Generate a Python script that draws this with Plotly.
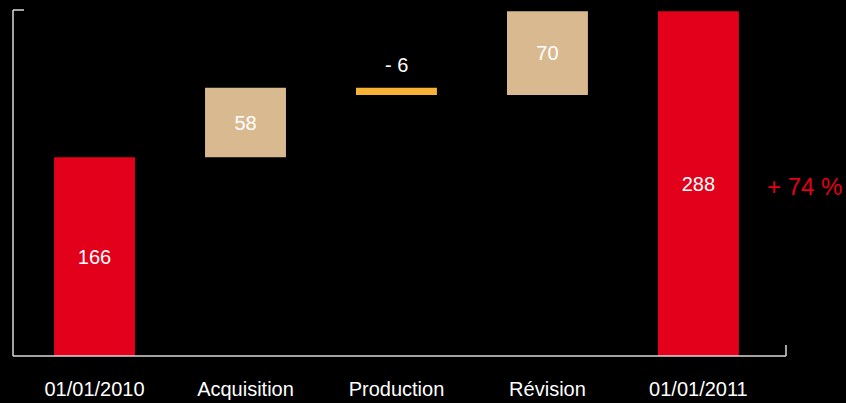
import plotly.graph_objects as go

categories = ["01/01/2010", "Acquisition", "Production", "Révision", "01/01/2011"]
values = [166, 58, -6, 70, 288]
measures = ["absolute", "relative", "relative", "relative", "total"]
labels = ["166", "58", "- 6", "70", "288"]
change_label = "+ 74 %"

RED = "#e2001a"
TAN = "#d9b98f"
ORANGE = "#f8b334"
FONT = "Liberation Sans, Arial, sans-serif"

# compute waterfall geometry from data
bases, heights, colors, positions = [], [], [], []
running = 0
for v, m in zip(values, measures):
    if m == "absolute" or m == "total":
        start, end = 0, v
        running = v
        colors.append(RED)
    else:
        start, end = running, running + v
        running = end
        colors.append(TAN if v >= 0 else ORANGE)
    bases.append(min(start, end))
    heights.append(abs(end - start))
    positions.append("none" if v < 0 else "inside")

fig = go.Figure()
fig.add_trace(go.Bar(
    x=list(range(len(categories))),
    y=heights,
    base=bases,
    width=0.536,
    marker=dict(color=colors, line=dict(width=0)),
    text=labels,
    textposition=positions,
    insidetextanchor="middle",
    textangle=0,
    cliponaxis=False,
    textfont=dict(family=FONT, size=20, color="white"),
    hoverinfo="skip",
))

annotations = []
for i, v in enumerate(values):
    if v < 0:
        annotations.append(dict(
            text=labels[i], x=i, y=bases[i] + heights[i], xref="x", yref="y",
            xanchor="center", yanchor="bottom", yshift=10, showarrow=False,
            font=dict(family=FONT, size=20, color="white")))
annotations.append(dict(
    text=change_label, xref="paper", yref="paper", x=1.0235, y=0.49,
    xanchor="center", yanchor="middle", showarrow=False,
    font=dict(family=FONT, size=24, color=RED)))

line_color = "#d9d9d9"
shapes = [
    dict(type="line", xref="paper", yref="paper", x0=0, x1=0, y0=0, y1=1,
         line=dict(color=line_color, width=1.5)),
    dict(type="line", xref="paper", yref="paper", x0=0, x1=0.0142, y0=1, y1=1,
         line=dict(color=line_color, width=1.5)),
    dict(type="line", xref="paper", yref="paper", x0=0, x1=1, y0=0, y1=0,
         line=dict(color=line_color, width=1.5)),
    dict(type="line", xref="paper", yref="paper", x0=1, x1=1, y0=0, y1=0.032,
         line=dict(color=line_color, width=1.5)),
]

fig.update_layout(
    width=846, height=403,
    paper_bgcolor="black", plot_bgcolor="black",
    margin=dict(l=13, r=60, t=10, b=47),
    showlegend=False,
    shapes=shapes,
    annotations=annotations,
    xaxis=dict(
        range=[-0.54, 4.58],
        tickmode="array",
        tickvals=list(range(len(categories))),
        ticktext=categories,
        showgrid=False, zeroline=False, showline=False,
        ticks="", ticklabelstandoff=19,
        automargin=False,
        tickfont=dict(family=FONT, size=20, color="white"),
        fixedrange=True,
    ),
    yaxis=dict(
        range=[0, 289],
        showgrid=False, zeroline=False, showline=False,
        showticklabels=False, ticks="",
        automargin=False,
        fixedrange=True,
    ),
)

fig.write_html(
    "out.html",
    config={"displayModeBar": False},
    post_script="document.body.style.margin='0';document.body.style.background='black';document.body.style.overflow='hidden';",
)
